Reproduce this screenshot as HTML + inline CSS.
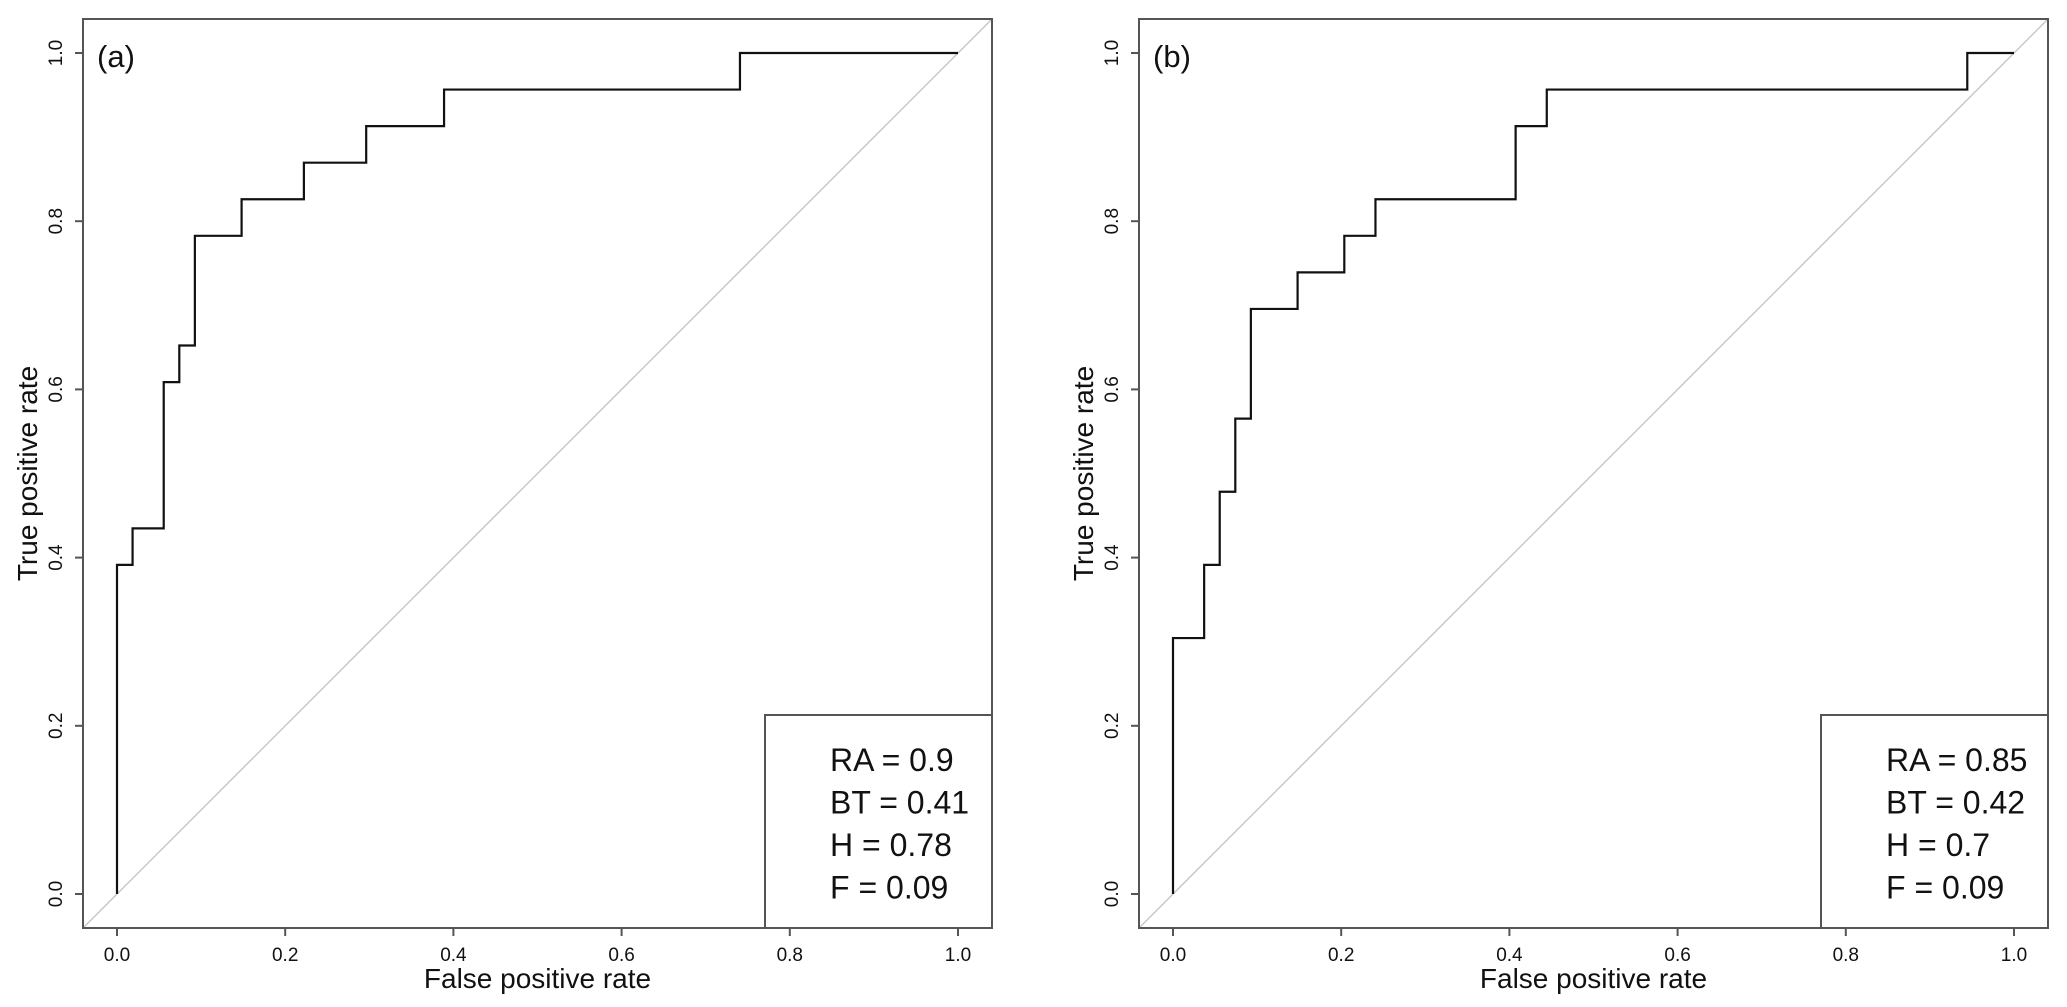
<!DOCTYPE html>
<html><head><meta charset="utf-8">
<style>
html,body{margin:0;padding:0;background:#fff;}
svg{display:block;font-family:"Liberation Sans",Arial,sans-serif;}
</style></head>
<body>
<svg id="chart" width="2067" height="1007" viewBox="0 0 2067 1007" xmlns="http://www.w3.org/2000/svg"></svg>
<script>
// Panel (a) data
const fprA = [0,0,1/54,1/54,3/54,3/54,4/54,4/54,5/54,5/54,8/54,8/54,12/54,12/54,16/54,16/54,21/54,21/54,40/54,40/54,1];
const tprA = [0,9/23,9/23,10/23,10/23,14/23,14/23,15/23,15/23,18/23,18/23,19/23,19/23,20/23,20/23,21/23,21/23,22/23,22/23,1,1];
const statsA = ["RA = 0.9","BT = 0.41","H = 0.78","F = 0.09"];
// Panel (b) data
const fprB = [0,0,2/54,2/54,3/54,3/54,4/54,4/54,5/54,5/54,8/54,8/54,11/54,11/54,13/54,13/54,22/54,22/54,24/54,24/54,51/54,51/54,1];
const tprB = [0,7/23,7/23,9/23,9/23,11/23,11/23,13/23,13/23,16/23,16/23,17/23,17/23,18/23,18/23,19/23,19/23,21/23,21/23,22/23,22/23,1,1];
const statsB = ["RA = 0.85","BT = 0.42","H = 0.7","F = 0.09"];
const ticks = [0,0.2,0.4,0.6,0.8,1.0];
const tickLabels = ["0.0","0.2","0.4","0.6","0.8","1.0"];

const svg = document.getElementById('chart');
const NS = 'http://www.w3.org/2000/svg';
function mk(tag, attrs, parent){
  const e = document.createElementNS(NS, tag);
  for (const k in attrs) e.setAttribute(k, attrs[k]);
  (parent||svg).appendChild(e);
  return e;
}

function panel(off, label, fpr, tpr, stats, id){
  const g = mk('g', {});
  
  
  const x0 = 117 + off, x1 = 958 + off, y0 = 894, y1 = 53;
  const sx = v => x0 + v * (x1 - x0);
  const sy = v => y0 - v * (y0 - y1);
  const L = 83 + off, R = 992 + off, T = 19, B = 928;
  // diagonal
  const diag = mk('line', {x1:L, y1:B, x2:sx(1)+(R-sx(1)), y2:sy(1)-(R-sx(1)), stroke:'#c8c8c8','stroke-width':1.5}, g);
  
  
  // clip diagonal within box
  diag.setAttribute('x2', Math.min(R, L + (B - T)));
  diag.setAttribute('y2', B - (Math.min(R, L + (B - T)) - L));
  // curve
  let d = '';
  for (let i = 0; i < fpr.length; i++) d += (i ? 'L' : 'M') + sx(fpr[i]).toFixed(2) + ' ' + sy(tpr[i]).toFixed(2);
  const path = mk('path', {d:d, fill:'none', stroke:'#111', 'stroke-width':2.2}, g);
  
  
  // box
  const box = mk('rect', {x:L, y:T, width:R-L, height:B-T, fill:'none', stroke:'#555', 'stroke-width':2}, g);
  
  
  // ticks
  ticks.forEach((t, i) => {
    mk('line', {x1:sx(t), y1:B, x2:sx(t), y2:B+8, stroke:'#555','stroke-width':2}, g);
    const xt = mk('text', {x:sx(t), y:B+33, 'text-anchor':'middle', 'font-size':19, fill:'#111'}, g);
    xt.textContent = tickLabels[i];
    
    
    mk('line', {x1:L, y1:sy(t), x2:L-8, y2:sy(t), stroke:'#555','stroke-width':2}, g);
    const yt = mk('text', {x:0, y:0, 'text-anchor':'middle', 'font-size':19, fill:'#111', transform:'translate(' + (L-21) + ',' + sy(t) + ') rotate(-90)'}, g);
    yt.textContent = tickLabels[i];
    
    
  });
  // axis titles
  const xtitle = mk('text', {x:(L+R)/2, y:988, 'text-anchor':'middle', 'font-size':28, fill:'#111'}, g);
  xtitle.textContent = 'False positive rate';
  
  
  const ytitle = mk('text', {x:0, y:0, 'text-anchor':'middle', 'font-size':28, fill:'#111', transform:'translate(' + (L-46) + ',' + ((T+B)/2) + ') rotate(-90)'}, g);
  ytitle.textContent = 'True positive rate';
  
  
  // panel label
  const pl = mk('text', {x:97+off, y:67, 'font-size':31, fill:'#111'}, g);
  pl.textContent = label;
  
  
  // legend
  const lg = mk('rect', {x:765+off, y:715, width:R-(765+off), height:B-715, fill:'#fff', stroke:'#555','stroke-width':2}, g);
  
  
  stats.forEach((s, i) => {
    const t = mk('text', {x:830+off, y:771 + i*42.5, 'font-size':32, fill:'#111'}, g);
    t.textContent = s;
    
    
  });
}
panel(0, '(a)', fprA, tprA, statsA, 'a');
panel(1056, '(b)', fprB, tprB, statsB, 'b');
</script>
</body></html>
